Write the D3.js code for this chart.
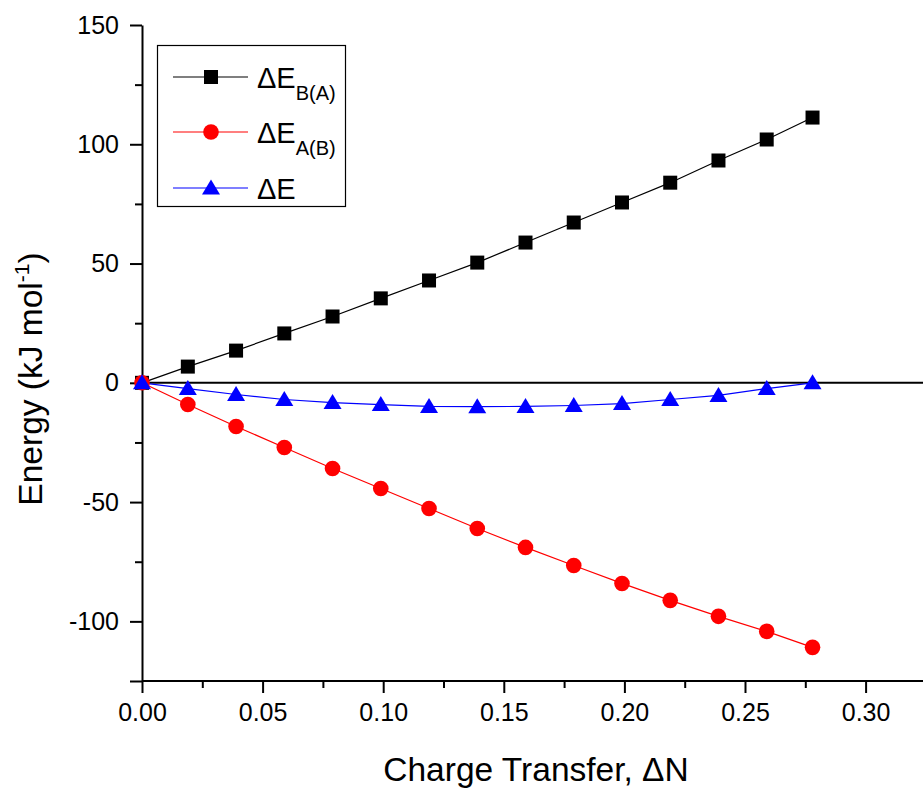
<!DOCTYPE html>
<html><head><meta charset="utf-8">
<script src="https://cdn.jsdelivr.net/npm/d3@7"></script>
<style>body{margin:0;background:#fff}svg{display:block;font-family:"Liberation Sans",Arial,sans-serif}</style>
</head><body><svg id="c" width="923" height="790"></svg>
<script>
const xValues = [0, 0.019, 0.039, 0.059, 0.079, 0.099, 0.119, 0.139, 0.159, 0.179, 0.199, 0.219, 0.239, 0.259, 0.278];
const dE_BA = [0, 6.8, 13.5, 20.7, 27.8, 35.4, 42.9, 50.4, 58.8, 67.2, 75.6, 83.9, 93.2, 102.0, 111.2];
const dE_AB = [0, -9.1, -18.3, -27.1, -35.9, -44.3, -52.7, -61.1, -69.0, -76.6, -84.1, -91.2, -97.9, -104.2, -110.9];
const dE = [0, -2.4, -4.9, -7.0, -8.3, -9.1, -9.9, -10.0, -9.9, -9.5, -8.7, -7.0, -5.3, -2.4, 0];
const xTicks = [0, 0.05, 0.10, 0.15, 0.20, 0.25, 0.30];
const yTicks = [-100, -50, 0, 50, 100, 150];

const svg = d3.select("#c");
const x = d3.scaleLinear().domain([0, 0.325]).range([142, 142 + 0.325 * 2412]);
const y = d3.scaleLinear().domain([-125, 150]).range([681, 25]);

// zero line
svg.append("line").attr("x1", x(0)).attr("x2", 923).attr("y1", y(0)).attr("y2", y(0))
  .attr("stroke", "#000").attr("stroke-width", 2);

// axes
const xMinor = d3.range(0.025, 0.326, 0.05);
const yMinor = [-75, -25, 25, 75, 125];
const gx = svg.append("g").attr("transform", `translate(0,${y(-125)})`);
gx.call(d3.axisBottom(x).tickValues(xMinor).tickSize(7).tickFormat(""));
gx.call(g => g.selectAll(".domain").remove());
const gx2 = svg.append("g").attr("transform", `translate(0,${y(-125)})`);
gx2.call(d3.axisBottom(x).tickValues(xTicks).tickSize(12).tickPadding(9).tickFormat(d3.format(".2f")).tickSizeOuter(0));
gx2.select(".domain").attr("d", `M${x(0)},0H923`);
const gy = svg.append("g").attr("transform", `translate(${x(0)},0)`);
gy.call(d3.axisLeft(y).tickValues(yMinor).tickSize(7).tickFormat(""));
gy.call(g => g.selectAll(".domain").remove());
const gy2 = svg.append("g").attr("transform", `translate(${x(0)},0)`);
gy2.call(d3.axisLeft(y).tickValues(yTicks.concat([-125])).tickSize(12).tickPadding(11).tickFormat(d => d === -125 ? "" : d).tickSizeOuter(0));
svg.selectAll(".domain").attr("stroke-width", 2).attr("stroke", "#000");
svg.selectAll(".tick line").attr("stroke-width", 2).attr("stroke", "#000");
svg.selectAll(".tick text").attr("font-size", 25).attr("fill", "#000").attr("font-family", "Liberation Sans, Arial, sans-serif");
gx2.selectAll(".tick text").attr("dy", "0.75em");

// series
const series = [
  {vals: dE_BA, color: "#000000", shape: "square", lineColor: "#000"},
  {vals: dE_AB, color: "#ff0000", shape: "circle", lineColor: "#ff0000"},
  {vals: dE, color: "#0000ff", shape: "triangle", lineColor: "#0000ff"}
];
const line = d3.line().x(d => x(d[0])).y(d => y(d[1]));
function marker(g, shape, color, cx, cy) {
  if (shape === "square") g.append("rect").attr("x", cx - 7).attr("y", cy - 7).attr("width", 14).attr("height", 14).attr("fill", color);
  else if (shape === "circle") g.append("circle").attr("cx", cx).attr("cy", cy).attr("r", 7.8).attr("fill", color);
  else g.append("path").attr("d", `M${cx},${cy - 8.5}L${cx + 9},${cy + 6.5}L${cx - 9},${cy + 6.5}Z`).attr("fill", color);
}
series.forEach(s => {
  const pts = xValues.map((xv, i) => [xv, s.vals[i]]);
  svg.append("path").attr("d", line(pts)).attr("fill", "none").attr("stroke", s.lineColor).attr("stroke-width", 1.2);
});
series.forEach(s => {
  const g = svg.append("g");
  xValues.forEach((xv, i) => marker(g, s.shape, s.color, x(xv), y(s.vals[i])));
});

// legend
const lg = svg.append("g");
lg.append("rect").attr("x", 157.5).attr("y", 45.5).attr("width", 188).attr("height", 161)
  .attr("fill", "#fff").attr("stroke", "#000").attr("stroke-width", 1.2);
const labels = [["ΔE", "B(A)"], ["ΔE", "A(B)"], ["ΔE", ""]];
const rowY = [77, 132, 188];
series.forEach((s, i) => {
  lg.append("line").attr("x1", 173).attr("x2", 248).attr("y1", rowY[i]).attr("y2", rowY[i]).attr("stroke", s.lineColor).attr("stroke-width", 1.2);
  marker(lg, s.shape, s.color, 211, rowY[i]);
  const t = lg.append("text").attr("x", 257).attr("y", rowY[i] + 10.5).attr("font-size", 29).attr("fill", "#000");
  t.append("tspan").text(labels[i][0]);
  if (labels[i][1]) t.append("tspan").attr("font-size", 20).attr("dy", 12).text(labels[i][1]);
});

// axis titles
svg.append("text").attr("x", 536).attr("y", 781).attr("text-anchor", "middle").attr("font-size", 33.5).attr("fill", "#000")
  .text("Charge Transfer, ΔN");
const yt = svg.append("text").attr("transform", "translate(42,379) rotate(-90)").attr("text-anchor", "middle").attr("font-size", 33.5).attr("fill", "#000");
yt.append("tspan").text("Energy (kJ mol");
yt.append("tspan").attr("font-size", 21).attr("dy", -13).text("-1");
yt.append("tspan").attr("dy", 13).text(")");
</script></body></html>
